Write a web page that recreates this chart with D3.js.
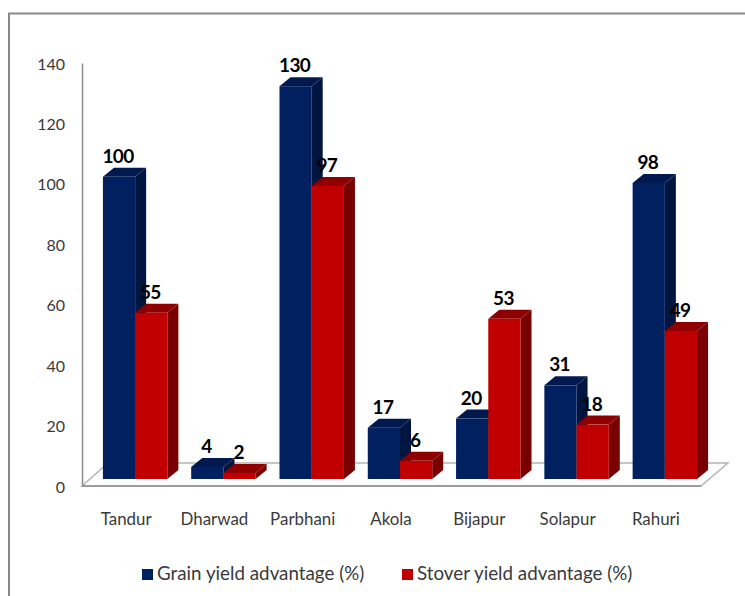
<!DOCTYPE html>
<html>
<head>
<meta charset="utf-8">
<script src="https://cdn.jsdelivr.net/npm/d3@7"></script>
<style>
  html, body { margin: 0; padding: 0; background: #fff; }
  svg { display: block; font-family: Lato, "Open Sans", sans-serif; }
</style>
</head>
<body>
<svg id="chart" width="745" height="596"></svg>
<script>
const categories = ["Tandur", "Dharwad", "Parbhani", "Akola", "Bijapur", "Solapur", "Rahuri"];
const grainYield = [100, 4, 130, 17, 20, 31, 98];
const stoverYield = [55, 2, 97, 6, 53, 18, 49];
const seriesNames = ["Grain yield advantage (%)", "Stover yield advantage (%)"];
const yTicks = [0, 20, 40, 60, 80, 100, 120, 140];

const colors = [
  { front: "#002060", side: "#001540", top: "#001a50" },
  { front: "#c00000", side: "#780000", top: "#8e0000" }
];

const svg = d3.select("#chart");
const axisColor = "#8c8c8c";
const textColor = "#3a3a3a";

// 3d offset of the bars and of the floor
const depth = { dx: 11, dy: 9, floor: 7 };

const y = d3.scaleLinear().domain([0, 140]).range([486, 63]);
const x0 = d3.scaleBand().domain(categories).range([91, 709]).paddingInner(0.27).paddingOuter(0.135);
const x1 = d3.scaleBand().domain([0, 1]).range([0, x0.bandwidth()]);

// outer frame, runs off the right and bottom of the picture
svg.append("path")
  .attr("d", "M9,596V13.5H745")
  .attr("fill", "none")
  .attr("stroke", "#8a8a8a")
  .attr("stroke-width", 2);

// floor
svg.append("path")
  .attr("d", "M82,486L108,463H728L701,486Z")
  .attr("fill", "#fff")
  .attr("stroke", "#b4b4b4")
  .attr("stroke-width", 1.5);
svg.append("line")
  .attr("x1", 82).attr("x2", 701).attr("y1", 486).attr("y2", 486)
  .attr("stroke", axisColor).attr("stroke-width", 1.5);

// y axis
const yAxis = svg.append("g")
  .attr("transform", "translate(82,0)")
  .call(d3.axisLeft(y).tickValues(yTicks).tickSize(0).tickPadding(17));
yAxis.select(".domain").attr("stroke", axisColor).attr("stroke-width", 1.5);
yAxis.selectAll("text")
  .attr("font-family", "Lato, 'Open Sans', sans-serif")
  .attr("font-size", 16)
  .attr("y", 1)
  .attr("fill", textColor);

// bars
const rows = categories.flatMap((c, i) => [
  { cat: c, s: 0, v: grainYield[i] },
  { cat: c, s: 1, v: stoverYield[i] }
]);

const bars = svg.append("g").selectAll("g").data(rows).join("g");
const left = d => x0(d.cat) + x1(d.s);
const topY = d => y(d.v) - depth.floor;
const baseY = y(0) - depth.floor;
const w = x1.bandwidth();

bars.append("path")
  .attr("fill", d => colors[d.s].side)
  .attr("d", d => {
    const r = left(d) + w;
    return `M${r},${topY(d)}l${depth.dx},${-depth.dy}V${baseY - depth.dy}L${r},${baseY}Z`;
  });
bars.append("path")
  .attr("fill", d => colors[d.s].top)
  .attr("d", d => `M${left(d)},${topY(d)}l${depth.dx},${-depth.dy}h${w}l${-depth.dx},${depth.dy}Z`);
bars.append("rect")
  .attr("x", left)
  .attr("y", topY)
  .attr("width", w)
  .attr("height", d => baseY - topY(d))
  .attr("fill", d => colors[d.s].front);

// value labels go on top of every bar
svg.append("g").selectAll("text").data(rows).join("text")
  .attr("x", d => left(d) + w / 2 - 1)
  .attr("y", d => topY(d) - 14)
  .attr("text-anchor", "middle")
  .attr("font-size", 19)
  .attr("letter-spacing", -0.7)
  .attr("font-weight", 700)
  .attr("fill", "#000")
  .text(d => d.v);

// category labels
svg.append("g").selectAll("text").data(categories).join("text")
  .attr("x", d => x0(d) + x0.bandwidth() / 2 - 9)
  .attr("y", 525)
  .attr("text-anchor", "middle")
  .attr("font-size", 16.9)
  .attr("fill", textColor)
  .text(d => d);

// legend
const legendX = [142, 402];
const legend = svg.append("g").selectAll("g").data(seriesNames).join("g")
  .attr("transform", (d, i) => `translate(${legendX[i]},569)`);
legend.append("rect")
  .attr("width", 11).attr("height", 11)
  .attr("fill", (d, i) => colors[i].front);
legend.append("text")
  .attr("x", 15).attr("y", 11)
  .attr("font-size", 18.8)
  .attr("fill", textColor)
  .text(d => d);
</script>
</body>
</html>
